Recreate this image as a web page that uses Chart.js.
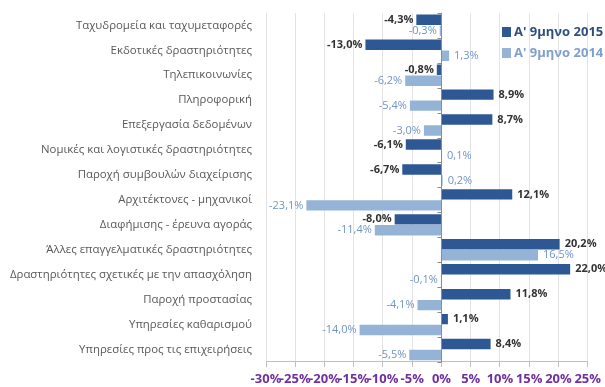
<!DOCTYPE html>
<html>
<head>
<meta charset="utf-8">
<script src="https://cdn.jsdelivr.net/npm/chart.js@4/dist/chart.umd.min.js"></script>
<style>
  body { margin: 0; background: #fff; }
  #wrap { position: relative; width: 605px; height: 387px; overflow: hidden; }
  #legend { position: absolute; left: 502px; top: 21px; white-space: nowrap; font-family: "Open Sans", sans-serif; font-weight: bold; font-size: 13px; line-height: 21px; }
  #legend span.box { display: inline-block; width: 9px; height: 10px; margin-right: 3px; vertical-align: -1px; }
</style>
</head>
<body>
<div id="wrap">
  <canvas id="chart1" width="605" height="387"></canvas>
  <div id="legend"></div>
</div>
<script>
var categories = [
    'Ταχυδρομεία και ταχυμεταφορές',
    'Εκδοτικές δραστηριότητες',
    'Τηλεπικοινωνίες',
    'Πληροφορική',
    'Επεξεργασία δεδομένων',
    'Νομικές και λογιστικές δραστηριότητες',
    'Παροχή συμβουλών διαχείρισης',
    'Αρχιτέκτονες - μηχανικοί',
    'Διαφήμισης - έρευνα αγοράς',
    'Άλλες επαγγελματικές δραστηριότητες',
    'Δραστηριότητες σχετικές με την απασχόληση',
    'Παροχή προστασίας',
    'Υπηρεσίες καθαρισμού',
    'Υπηρεσίες προς τις επιχειρήσεις'
]
var values2015 = [-4.3, -13.0, -0.8, 8.9, 8.7, -6.1, -6.7, 12.1, -8.0, 20.2, 22.0, 11.8, 1.1, 8.4]
var values2014 = [-0.3, 1.3, -6.2, -5.4, -3.0, 0.1, 0.2, -23.1, -11.4, 16.5, -0.1, -4.1, -14.0, -5.5]
var seriesNames = ["Α' 9μηνο 2015", "Α' 9μηνο 2014"]
var xTicks = [-30, -25, -20, -15, -10, -5, 0, 5, 10, 15, 20, 25]

var darkBlue = '#2E5894'
var lightBlue = '#95B3D7'
var font = '"Open Sans", sans-serif'

function fmt(v) {
    return v.toFixed(1).replace('.', ',') + '%'
}

// value labels at the end of each bar
var barLabels = {
    id: 'barLabels',
    afterDatasetsDraw: function (chart) {
        var c = chart.ctx
        c.save()
        c.textBaseline = 'middle'
        chart.data.datasets.forEach(function (ds, di) {
            var meta = chart.getDatasetMeta(di)
            c.font = (di == 0 ? 'bold ' : '') + '11px ' + font
            c.fillStyle = di == 0 ? '#333333' : '#6F94C6'
            meta.data.forEach(function (bar, i) {
                var v = ds.data[i]
                if (v >= 0) {
                    c.textAlign = 'left'
                    c.fillText(fmt(v), bar.x + 5, bar.y)
                } else {
                    c.textAlign = 'right'
                    c.fillText(fmt(v), bar.x - 3, bar.y)
                }
            })
        })
        c.restore()
    }
}

// zero axis line with small ticks between categories
var zeroAxis = {
    id: 'zeroAxis',
    afterDatasetsDraw: function (chart) {
        var c = chart.ctx
        var x0 = Math.round(chart.scales.x.getPixelForValue(0)) + 0.5
        var area = chart.chartArea
        var n = categories.length
        var step = (area.bottom - area.top) / n
        c.save()
        c.strokeStyle = '#8C8C8C'
        c.lineWidth = 1
        c.beginPath()
        c.moveTo(x0, area.top)
        c.lineTo(x0, area.bottom)
        for (var i = 0; i <= n; i++) {
            var y = Math.round(area.top + i * step) + 0.5
            c.moveTo(x0 - 4, y)
            c.lineTo(x0, y)
        }
        c.stroke()
        c.restore()
    }
}

var ctx = document.getElementById('chart1')
var chart1 = new Chart(ctx, {
    type: 'bar',
    data: {
        labels: categories,
        datasets: [
            { label: seriesNames[0], data: values2015, backgroundColor: darkBlue },
            { label: seriesNames[1], data: values2014, backgroundColor: lightBlue }
        ]
    },
    options: {
        indexAxis: 'y',
        responsive: false,
        animation: false,
        layout: { padding: { top: 7, right: 16, left: 4, bottom: 0 } },
        datasets: { bar: { categoryPercentage: 0.88, barPercentage: 0.95 } },
        plugins: {
            legend: { display: false },
            tooltip: { enabled: false }
        },
        scales: {
            x: {
                min: -30,
                max: 25,
                afterBuildTicks: function (s) {
                    s.ticks = xTicks.map(function (v) { return { value: v } })
                },
                afterFit: function (s) { s.height = 25 },
                grid: { color: '#E3E3E3', tickLength: 5, tickColor: '#BFBFBF' },
                border: { color: '#BFBFBF' },
                ticks: {
                    autoSkip: false,
                    maxRotation: 0,
                    padding: 4,
                    color: '#7030A0',
                    font: { family: font, size: 13, weight: 'bold' },
                    callback: function (v) { return v + '%' }
                }
            },
            y: {
                afterFit: function (s) { s.width = 262 },
                grid: { display: false },
                border: { display: false },
                ticks: {
                    padding: 6,
                    color: '#595959',
                    font: { family: font, size: 11.4 }
                }
            }
        }
    },
    plugins: [barLabels, zeroAxis]
})

var legend = document.getElementById('legend')
var colors = [darkBlue, lightBlue]
var textColors = ['#2E4F7E', '#7F9FCC']
for (var i = 0; i < seriesNames.length; i++) {
    var row = document.createElement('div')
    row.innerHTML = '<span class="box" style="background:' + colors[i] + '"></span>' +
        '<span style="color:' + textColors[i] + '">' + seriesNames[i] + '</span>'
    legend.appendChild(row)
}
</script>
</body>
</html>
